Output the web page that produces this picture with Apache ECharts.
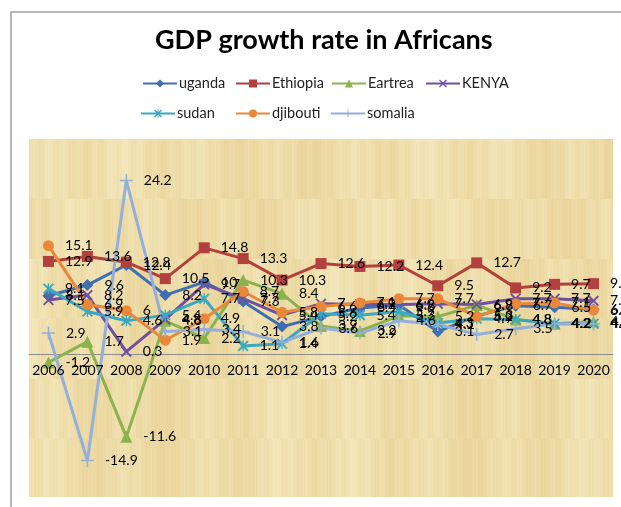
<!DOCTYPE html>
<html>
<head>
<meta charset="utf-8">
<script src="https://cdn.jsdelivr.net/npm/echarts@6/dist/echarts.min.js"></script>
<style>
  html, body { margin: 0; padding: 0; background: #fff; }
  #wrap { position: relative; width: 621px; height: 507px; overflow: hidden; }
  #paper { position: absolute; }
  #chart { position: absolute; left: 0; top: 0; width: 621px; height: 507px; }
</style>
</head>
<body>
<div id="wrap">
  <canvas id="paper"></canvas>
  <div id="chart"></div>
</div>
<script>
// GDP growth rate (%) by country, 2006-2020
const years = ['2006','2007','2008','2009','2010','2011','2012','2013','2014','2015','2016','2017','2018','2019','2020'];
const uganda   = [8.1, 9.6, 12.4, 8.2, 10, 7.3, 3.8, 5.2, 6.4, 6.8, 3.1, 5.3, 6.7, 6.5, 6.2];
const ethiopia = [12.9, 13.6, 12.8, 10.5, 14.8, 13.3, 10.3, 12.6, 12.2, 12.4, 9.5, 12.7, 9.2, 9.7, 9.8];
const eartrea  = [-1.2, 1.7, -11.6, 4.6, 2.2, 10.3, 8.4, 3.9, 3.2, 5.3, 5.2, 6.8, 4.8, 4.2, 4.5];
const kenya    = [7.5, 8.2, 0.3, 4.8, 9.7, 7.7, 5.4, 7, 6.9, 6.9, 7, 6.9, 7.7, 7.7, 7.4];
const sudan    = [9.1, 5.9, 4.6, 5.4, 7.7, 1.1, 1.4, 5.6, 5.4, 5.9, 4.3, 4.9, 4.8, 4.2, 4.2];
const djibouti = [15.1, 6.9, 6, 1.9, 4.9, 8.7, 5.8, 6.6, 7.1, 7.7, 7.7, 5.2, 7, 7.1, 6.1];
const somalia  = [2.9, -14.9, 24.2, 3.1, 3.4, 3.1, 1.6, 3.6, 2.9, 4.6, 4.1, 2.7, 3.5, 4.2, 4.2];

const W = 621, H = 507;
// plot area (value range -20 .. 30); the category axis sits on the zero line
const plot = { left: 29, right: 613, top: 139, bottom: 497 };
const VMIN = -20, VMAX = 30;
const zeroY = plot.top + (plot.bottom - plot.top) * VMAX / (VMAX - VMIN);
const FONT = 'Lato, "Open Sans", sans-serif';

// papyrus-like fill behind the plot area
(function drawPaper() {
  const c = document.getElementById('paper');
  const pw = plot.right - plot.left, ph = plot.bottom - plot.top;
  c.width = pw; c.height = ph;
  c.style.left = plot.left + 'px'; c.style.top = plot.top + 'px';
  const g = c.getContext('2d');
  g.fillStyle = '#eedca9';
  g.fillRect(0, 0, pw, ph);
  const rowH = 60;
  for (let r = 0; r * rowH < ph; r++) {
    const shift = (r * 23) % 47;
    for (let x = 0; x < pw; x++) {
      const u = x + shift;
      const v = Math.sin(u * 0.41 + r) * 0.45 + Math.sin(u * 0.083 + r * 2.1) * 0.7 +
                Math.sin(u * 1.7 + r * 0.7) * 0.3 + Math.sin(u * 0.019 + r * 0.4) * 0.5;
      const k = Math.max(-1, Math.min(1, v / 1.5));
      const R = Math.round(238 + k * 5), G = Math.round(221 + k * 9), B = Math.round(170 + k * 16);
      g.fillStyle = `rgb(${R},${G},${B})`;
      g.fillRect(x, r * rowH, 1, rowH);
    }
  }
})();

const chart = echarts.init(document.getElementById('chart'), null, { renderer: 'canvas' });

const X_PATH = 'path://M0,1.2L1.2,0L10,8.8L8.8,10Z M8.8,0L10,1.2L1.2,10L0,8.8Z';
const STAR_PATH = 'path://M0,1.2L1.2,0L10,8.8L8.8,10Z M8.8,0L10,1.2L1.2,10L0,8.8Z M4.4,0H5.6V10H4.4Z';
const PLUS_PATH = 'path://M0,4.4H10V5.6H0Z M4.4,0H5.6V10H4.4Z';

function line(name, data, color, symbol, size) {
  return {
    name, type: 'line', data, symbol, symbolSize: size,
    color, clip: false,
    lineStyle: { width: 3, color },
    itemStyle: { color },
    label: {
      show: true, position: 'right', distance: 11,
      color: '#000', fontSize: 14, fontFamily: FONT
    },
    emphasis: { disabled: true },
    animation: false
  };
}

// one legend block per entry, laid out in columns
const legendCells = [
  ['uganda', 137, 0], ['Ethiopia', 230, 0], ['Eartrea', 326, 0], ['KENYA', 420, 0],
  ['sudan', 135, 1], ['djibouti', 230, 1], ['somalia', 325, 1]
];
const legends = legendCells.map(([name, left, row]) => ({
  data: [name], left, top: row ? 101 : 71,
  itemWidth: 34, itemHeight: 10, itemGap: 0,
  textStyle: { fontFamily: FONT, fontSize: 14.5, color: '#222', padding: [0, 0, 0, -3] }
}));

chart.setOption({
  animation: false,
  backgroundColor: 'transparent',
  title: {
    text: 'GDP growth rate in Africans',
    left: 150, top: 22,
    textStyle: { fontFamily: FONT, fontWeight: 'bold', fontSize: 27, color: '#000' }
  },
  legend: legends,
  graphic: [{
    type: 'rect', shape: { x: 11, y: 12, width: 700, height: 600 },
    style: { fill: 'none', stroke: '#a0a0a0', lineWidth: 1.5 }, silent: true, z: -1
  }],
  grid: {
    left: plot.left, right: W - plot.right, top: plot.top, bottom: H - zeroY,
    outerBoundsMode: 'none', containLabel: false
  },
  xAxis: [
    {
      // zero line, drawn beneath the series
      type: 'category', data: years, boundaryGap: true, position: 'bottom', z: 0,
      axisLine: { lineStyle: { color: '#8c8c8c', width: 1 } },
      axisTick: { show: false }, axisLabel: { show: false }
    },
    {
      // year labels, drawn above the series
      type: 'category', data: years, boundaryGap: true, position: 'bottom', offset: 0, z: 10,
      axisLine: { show: false }, axisTick: { show: false },
      axisLabel: { interval: 0, color: '#000', fontSize: 14, fontFamily: FONT, margin: 10 }
    }
  ],
  yAxis: {
    type: 'value', min: 0, max: VMAX,
    axisLine: { show: false }, axisTick: { show: false },
    axisLabel: { show: false }, splitLine: { show: false }
  },
  series: [
    line('uganda', uganda, '#3f6fb0', 'diamond', 12),
    line('Ethiopia', ethiopia, '#b2403c', 'rect', 11),
    line('Eartrea', eartrea, '#8ab34c', 'triangle', 12),
    line('KENYA', kenya, '#7050a0', X_PATH, 11),
    line('sudan', sudan, '#3aa8c0', STAR_PATH, 11),
    line('djibouti', djibouti, '#e8883a', 'circle', 11),
    line('somalia', somalia, '#94b0da', PLUS_PATH, 13)
  ]
});
</script>
</body>
</html>
